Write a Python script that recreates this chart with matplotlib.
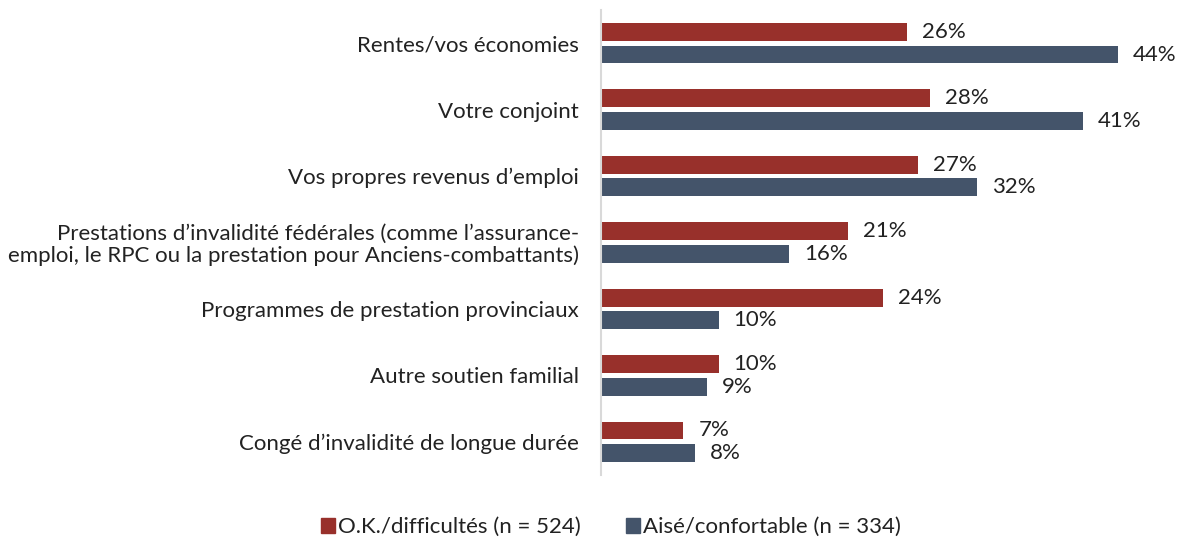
import matplotlib
matplotlib.use("Agg")
import matplotlib.pyplot as plt
import numpy as np
from matplotlib.patches import Patch

categories = [
    "Rentes/vos économies",
    "Votre conjoint",
    "Vos propres revenus d\u2019emploi",
    "Prestations d\u2019invalidité fédérales (comme l\u2019assurance-\nemploi, le RPC ou la prestation pour Anciens-combattants)",
    "Programmes de prestation provinciaux",
    "Autre soutien familial",
    "Congé d\u2019invalidité de longue durée",
]
ok_values = [26, 28, 27, 21, 24, 10, 7]
aise_values = [44, 41, 32, 16, 10, 9, 8]
series_names = ["O.K./difficultés (n = 524)", "Aisé/confortable (n = 334)"]
colors = ["#98302B", "#44546A"]

plt.rcParams['font.family'] = ['Lato', 'DejaVu Sans']
FS = 16

fig = plt.figure(figsize=(11.77, 5.38), dpi=100)
ax = fig.add_axes([601/1177, 1-475/538, 1-601/1177, (475-10)/538])

y = np.arange(len(categories))
off = 0.17
h = 0.27
b1 = ax.barh(y - off, ok_values, height=h, color=colors[0])
b2 = ax.barh(y + off, aise_values, height=h, color=colors[1])
for bars, vals in ((b1, ok_values), (b2, aise_values)):
    for rect, v in zip(bars, vals):
        ax.annotate(f"{v}%", (rect.get_width(), rect.get_y() + rect.get_height()/2),
                    xytext=(15, 0), textcoords="offset pixels",
                    ha="left", va="center", fontsize=FS, color="#222222")

ax.set_xlim(0, 49)
ax.set_ylim(len(categories) - 0.5, -0.5)
ax.set_yticks(y)
ax.set_yticklabels(categories, fontsize=FS, color="#222222", ha="right",
                   multialignment="right", linespacing=1.05)
ax.tick_params(axis="y", length=0, pad=15.8)
ax.set_xticks([])
for s in ("top", "right", "bottom"):
    ax.spines[s].set_visible(False)
ax.spines["left"].set_color("#D9D9D9")
ax.spines["left"].set_linewidth(1.5)

handles = [Patch(color=c) for c in colors]
fig.legend(handles, series_names, loc="center", bbox_to_anchor=(611/1177, 1-527/538),
           ncol=2, frameon=False, fontsize=FS, handlelength=0.65, handleheight=0.65,
           handletextpad=0.15, columnspacing=2.0, labelcolor="#222222")

fig.savefig("out.png", dpi=100)
